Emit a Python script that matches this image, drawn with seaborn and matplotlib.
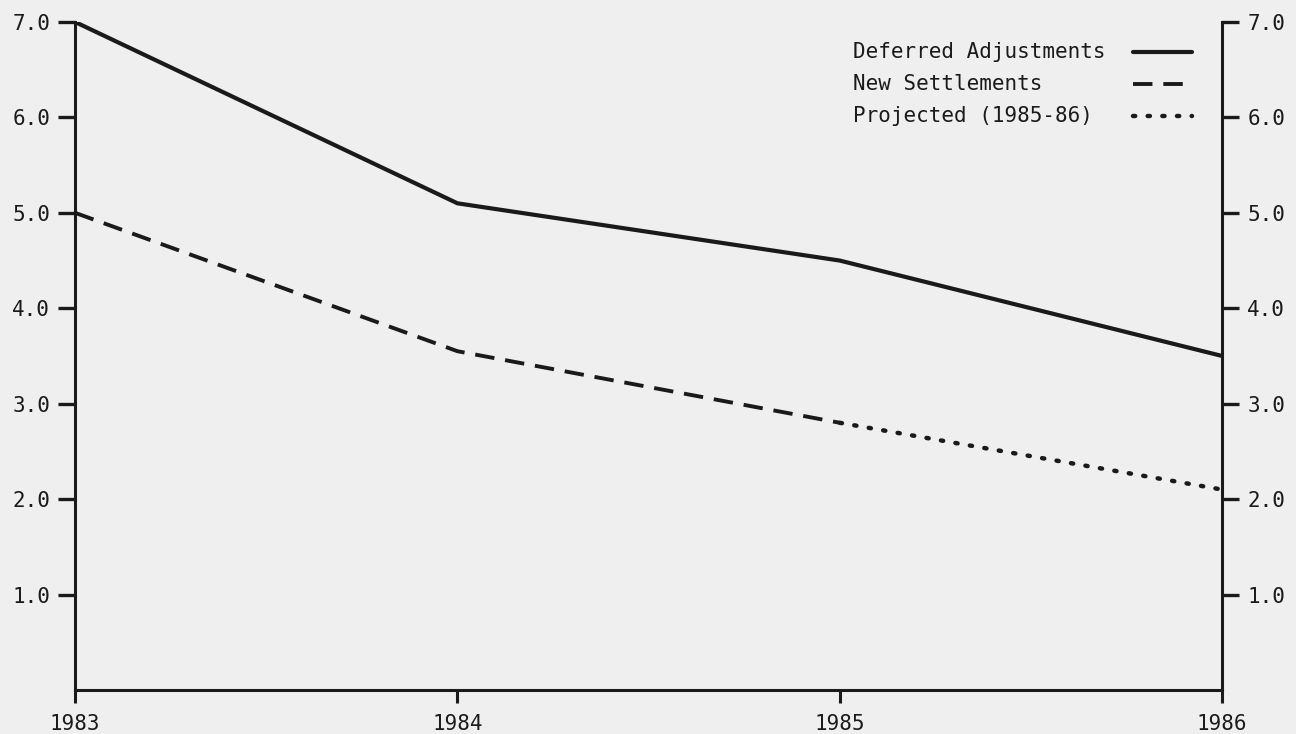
import matplotlib
matplotlib.use("Agg")
import matplotlib.pyplot as plt
import seaborn as sns
import pandas as pd

years = [1983, 1984, 1985, 1986]
deferred = [7.0, 5.1, 4.5, 3.5]
settle_years = [1983, 1984, 1985]
settlements = [5.0, 3.55, 2.8]
proj_years = [1985, 1986]
projected = [2.8, 2.1]
y_ticks = [1.0, 2.0, 3.0, 4.0, 5.0, 6.0, 7.0]
legend_labels = ["Deferred Adjustments", "New Settlements", "Projected (1985-86)"]

BG = "#efefef"
INK = "#1a1a1a"

SOLID = dict(lw=3, linestyle="-")
DASHED = dict(lw=2.8, linestyle=(0, (5, 2.8)))
DOTTED = dict(lw=3.2, linestyle=(0, (0.5, 2.8)), dash_capstyle="round")


def main():
    sns.set_style("white")
    plt.rcParams["font.family"] = ["DejaVu Sans Mono"]

    fig = plt.figure(figsize=(12.96, 7.34), dpi=100, facecolor=BG)
    ax = fig.add_axes([0.058, 0.06, 0.885, 0.91])
    ax.set_facecolor(BG)

    df_def = pd.DataFrame({"year": years, "value": deferred})
    df_set = pd.DataFrame({"year": settle_years, "value": settlements})
    df_proj = pd.DataFrame({"year": proj_years, "value": projected})

    sns.lineplot(data=df_def, x="year", y="value", ax=ax, color=INK, **SOLID)
    sns.lineplot(data=df_set, x="year", y="value", ax=ax, color=INK, **DASHED)
    sns.lineplot(data=df_proj, x="year", y="value", ax=ax, color=INK, **DOTTED)

    ax.set_xlim(1983, 1986)
    ax.set_ylim(0, 7)
    ax.set_xticks(years)
    ax.set_xticklabels([str(y) for y in years])
    ax.set_yticks(y_ticks)
    ax.set_yticklabels([f"{v:.1f}" for v in y_ticks])
    ax.set_xlabel("")
    ax.set_ylabel("")

    for side in ["left", "right", "bottom"]:
        ax.spines[side].set_visible(True)
        ax.spines[side].set_linewidth(2.2)
        ax.spines[side].set_color(INK)
    ax.spines["top"].set_visible(False)

    ax.tick_params(axis="y", which="both", left=True, right=True,
                   labelleft=True, labelright=True, direction="out",
                   length=12, width=2.4, colors=INK, labelsize=15, pad=6)
    ax.tick_params(axis="x", bottom=True, direction="out", length=9,
                   width=2.2, colors=INK, labelsize=15, pad=8)

    # legend: text on the left, line sample on the right
    styles = [SOLID, DASHED, DOTTED]
    rows_y = [0.955, 0.907, 0.859]
    for label, style, ry in zip(legend_labels, styles, rows_y):
        ax.text(0.678, ry, label, transform=ax.transAxes, ha="left",
                va="center", fontsize=15, color=INK)
        ax.plot([0.922, 0.974], [ry, ry], transform=ax.transAxes,
                color=INK, clip_on=False, **style)

    fig.savefig("out.png", dpi=100, facecolor=BG)


if __name__ == "__main__":
    main()
